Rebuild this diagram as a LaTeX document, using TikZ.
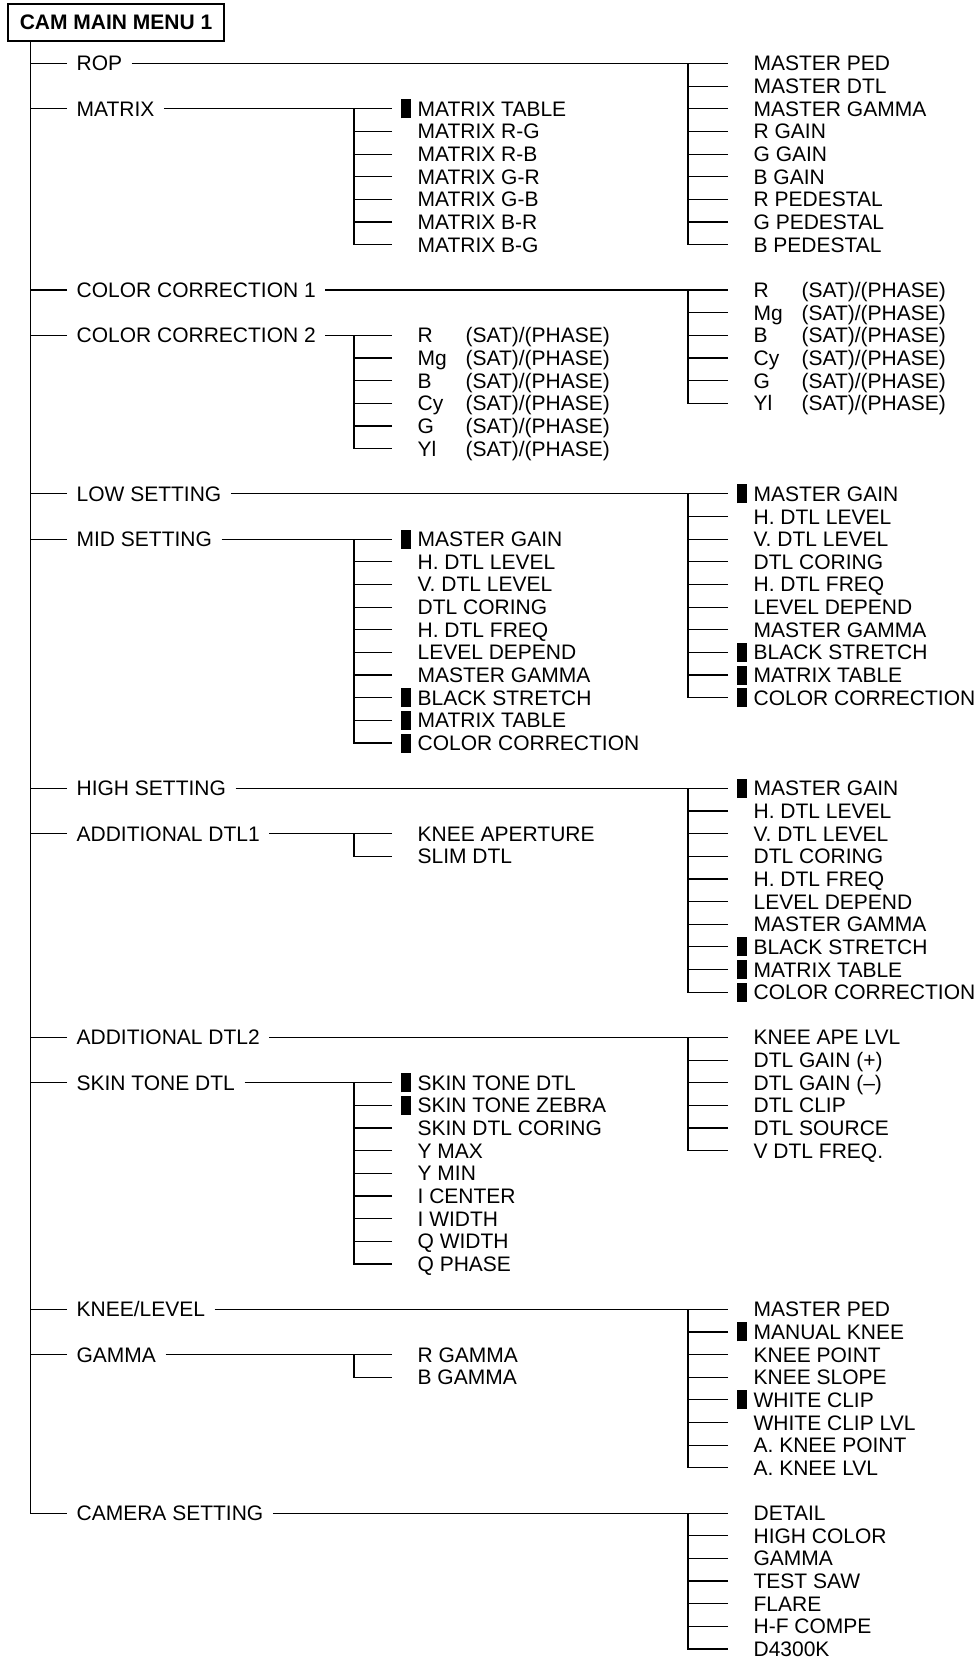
\documentclass[tikz,border=0pt]{standalone}
\usepackage{fontspec}
\setmainfont{Liberation Sans}
\newcommand{\mk}{\llap{\rule[-1pt]{5pt}{9.5pt}\hspace{3.5pt}}}
\newcommand{\satph}[1]{\makebox[24pt][l]{#1}(SAT)/(PHASE)}
\begin{document}
\begin{tikzpicture}[x=0.5pt, y=-0.5pt, line width=0.6pt, font=\fontsize{10.5}{12}\selectfont,
    menu/.style={anchor=west, inner xsep=4.5pt, inner ysep=0pt, text height=7.5pt, text depth=0pt},
    entry/.style={anchor=west, inner xsep=12.5pt, inner ysep=0pt, text height=7.5pt, text depth=0pt}]
  \def\yo{63.5} \def\dy{22.65} % first row, row spacing
  \def\xm{392} \def\xr{728} % left ends of middle and right entries
  \useasboundingbox (0,0) rectangle (977,1659);
  \node[draw, minimum width=108pt, minimum height=18.5pt, inner sep=0pt, font=\fontsize{10.5}{12}\selectfont\bfseries] (title) at (116,22.5) {CAM MAIN MENU 1};
  % main menu
  \foreach \nm/\rw/\txt in {rop/0/ROP, mtx/2/MATRIX, cc1/10/COLOR CORRECTION 1, cc2/12/COLOR CORRECTION 2, low/19/LOW SETTING, mid/21/MID SETTING, high/32/HIGH SETTING, add1/34/ADDITIONAL DTL1, add2/43/ADDITIONAL DTL2, skin/45/SKIN TONE DTL, knee/55/{KNEE/LEVEL}, gam/57/GAMMA, cam/64/CAMERA SETTING}
    \node[menu] (\nm) at (67,{\yo+\dy*\rw}) {\txt};
  \draw (title.south west) ++(23,0) |- (cam.west);
  \foreach \nm in {rop,mtx,cc1,cc2,low,mid,high,add1,add2,skin,knee,gam}
    \draw (\nm.west) -- ++(-36,0);
  % ROP
  \foreach \txt [count=\i] in {MASTER PED, MASTER DTL, MASTER GAMMA, R GAIN, G GAIN, B GAIN, R PEDESTAL, G PEDESTAL, B PEDESTAL}
    \node[entry] (rop\i) at (\xr,{\yo+\dy*(\i-1)}) {\txt};
  \draw (rop.east) -- (rop1.west);
  \draw (rop1.west) ++(-40,0) |- (rop9.west);
  \foreach \i in {2,...,8} \draw (rop\i.west) -- ++(-40,0);
  % MATRIX
  \foreach \txt [count=\i] in {\mk MATRIX TABLE, MATRIX R-G, MATRIX R-B, MATRIX G-R, MATRIX G-B, MATRIX B-R, MATRIX B-G}
    \node[entry] (mtx\i) at (\xm,{\yo+\dy*(\i+1)}) {\txt};
  \draw (mtx.east) -- (mtx1.west);
  \draw (mtx1.west) ++(-38,0) |- (mtx7.west);
  \foreach \i in {2,...,6} \draw (mtx\i.west) -- ++(-38,0);
  % COLOR CORRECTION 1
  \foreach \txt [count=\i] in {R, Mg, B, Cy, G, Yl}
    \node[entry] (cc1\i) at (\xr,{\yo+\dy*(\i+9)}) {\satph{\txt}};
  \draw (cc1.east) -- (cc11.west);
  \draw (cc11.west) ++(-40,0) |- (cc16.west);
  \foreach \i in {2,...,5} \draw (cc1\i.west) -- ++(-40,0);
  % COLOR CORRECTION 2
  \foreach \txt [count=\i] in {R, Mg, B, Cy, G, Yl}
    \node[entry] (cc2\i) at (\xm,{\yo+\dy*(\i+11)}) {\satph{\txt}};
  \draw (cc2.east) -- (cc21.west);
  \draw (cc21.west) ++(-38,0) |- (cc26.west);
  \foreach \i in {2,...,5} \draw (cc2\i.west) -- ++(-38,0);
  % LOW SETTING
  \foreach \txt [count=\i] in {\mk MASTER GAIN, H. DTL LEVEL, V. DTL LEVEL, DTL CORING, H. DTL FREQ, LEVEL DEPEND, MASTER GAMMA, \mk BLACK STRETCH, \mk MATRIX TABLE, \mk COLOR CORRECTION}
    \node[entry] (low\i) at (\xr,{\yo+\dy*(\i+18)}) {\txt};
  \draw (low.east) -- (low1.west);
  \draw (low1.west) ++(-40,0) |- (low10.west);
  \foreach \i in {2,...,9} \draw (low\i.west) -- ++(-40,0);
  % MID SETTING
  \foreach \txt [count=\i] in {\mk MASTER GAIN, H. DTL LEVEL, V. DTL LEVEL, DTL CORING, H. DTL FREQ, LEVEL DEPEND, MASTER GAMMA, \mk BLACK STRETCH, \mk MATRIX TABLE, \mk COLOR CORRECTION}
    \node[entry] (mid\i) at (\xm,{\yo+\dy*(\i+20)}) {\txt};
  \draw (mid.east) -- (mid1.west);
  \draw (mid1.west) ++(-38,0) |- (mid10.west);
  \foreach \i in {2,...,9} \draw (mid\i.west) -- ++(-38,0);
  % HIGH SETTING
  \foreach \txt [count=\i] in {\mk MASTER GAIN, H. DTL LEVEL, V. DTL LEVEL, DTL CORING, H. DTL FREQ, LEVEL DEPEND, MASTER GAMMA, \mk BLACK STRETCH, \mk MATRIX TABLE, \mk COLOR CORRECTION}
    \node[entry] (high\i) at (\xr,{\yo+\dy*(\i+31)}) {\txt};
  \draw (high.east) -- (high1.west);
  \draw (high1.west) ++(-40,0) |- (high10.west);
  \foreach \i in {2,...,9} \draw (high\i.west) -- ++(-40,0);
  % ADDITIONAL DTL1
  \node[entry] (add11) at (\xm,{\yo+\dy*34}) {KNEE APERTURE};
  \node[entry] (add12) at (\xm,{\yo+\dy*35}) {SLIM DTL};
  \draw (add1.east) -- (add11.west);
  \draw (add11.west) ++(-38,0) |- (add12.west);
  % ADDITIONAL DTL2
  \foreach \txt [count=\i] in {KNEE APE LVL, DTL GAIN (+), DTL GAIN (\textendash), DTL CLIP, DTL SOURCE, V DTL FREQ.}
    \node[entry] (add2\i) at (\xr,{\yo+\dy*(\i+42)}) {\txt};
  \draw (add2.east) -- (add21.west);
  \draw (add21.west) ++(-40,0) |- (add26.west);
  \foreach \i in {2,...,5} \draw (add2\i.west) -- ++(-40,0);
  % SKIN TONE DTL
  \foreach \txt [count=\i] in {\mk SKIN TONE DTL, \mk SKIN TONE ZEBRA, SKIN DTL CORING, Y MAX, Y MIN, I CENTER, I WIDTH, Q WIDTH, Q PHASE}
    \node[entry] (skin\i) at (\xm,{\yo+\dy*(\i+44)}) {\txt};
  \draw (skin.east) -- (skin1.west);
  \draw (skin1.west) ++(-38,0) |- (skin9.west);
  \foreach \i in {2,...,8} \draw (skin\i.west) -- ++(-38,0);
  % KNEE/LEVEL
  \foreach \txt [count=\i] in {MASTER PED, \mk MANUAL KNEE, KNEE POINT, KNEE SLOPE, \mk WHITE CLIP, WHITE CLIP LVL, A. KNEE POINT, A. KNEE LVL}
    \node[entry] (knee\i) at (\xr,{\yo+\dy*(\i+54)}) {\txt};
  \draw (knee.east) -- (knee1.west);
  \draw (knee1.west) ++(-40,0) |- (knee8.west);
  \foreach \i in {2,...,7} \draw (knee\i.west) -- ++(-40,0);
  % GAMMA
  \node[entry] (gam1) at (\xm,{\yo+\dy*57}) {R GAMMA};
  \node[entry] (gam2) at (\xm,{\yo+\dy*58}) {B GAMMA};
  \draw (gam.east) -- (gam1.west);
  \draw (gam1.west) ++(-38,0) |- (gam2.west);
  % CAMERA SETTING
  \foreach \txt [count=\i] in {DETAIL, HIGH COLOR, GAMMA, TEST SAW, FLARE, H-F COMPE, D4300K}
    \node[entry] (cam\i) at (\xr,{\yo+\dy*(\i+63)}) {\txt};
  \draw (cam.east) -- (cam1.west);
  \draw (cam1.west) ++(-40,0) |- (cam7.west);
  \foreach \i in {2,...,6} \draw (cam\i.west) -- ++(-40,0);
\end{tikzpicture}
\end{document}
